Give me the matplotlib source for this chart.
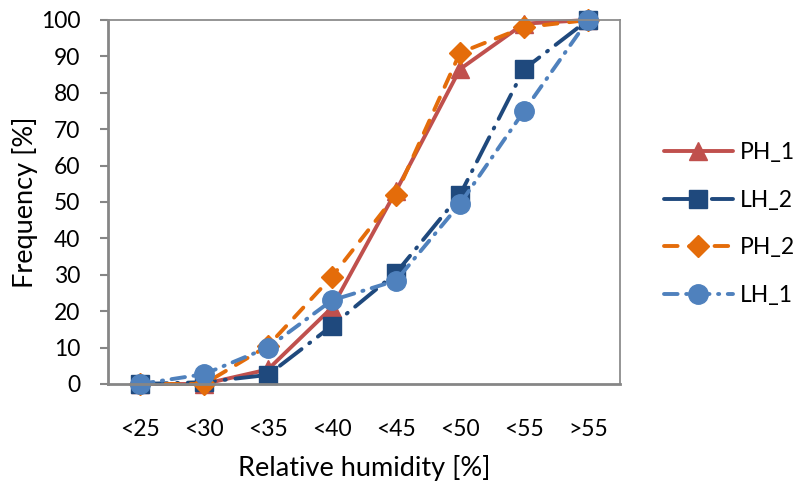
import matplotlib
matplotlib.use("Agg")
import matplotlib.pyplot as plt

categories = ["<25", "<30", "<35", "<40", "<45", "<50", "<55", ">55"]
ph_1 = [0, 0, 4, 21, 53, 86.5, 99, 100]
lh_2 = [0, 0.5, 2.5, 16, 30.5, 52, 86.5, 100]
ph_2 = [0, 0, 10.5, 29.5, 52, 91, 98, 100]
lh_1 = [0, 2.7, 10, 23, 28.4, 49.5, 75, 100]

plt.rcParams['font.family'] = ['Lato', 'DejaVu Sans']

fig = plt.figure(figsize=(8, 4.88), dpi=100)
ax = fig.add_axes([108/800, 1-384/488, 512/800, 364/488])

x = list(range(len(categories)))
lw = 2.8
ax.plot(x, ph_1, color='#C0504D', lw=lw, marker='^', ms=13, label='PH_1', solid_capstyle='round')
ax.plot(x, lh_2, color='#1F497D', lw=lw, marker='s', ms=13, label='LH_2',
        dashes=(7, 2.5, 0.3, 2.5), dash_capstyle='round')
ax.plot(x, ph_2, color='#E46C0A', lw=lw, marker='D', ms=11, label='PH_2',
        dashes=(3.5, 3), dash_capstyle='round')
ax.plot(x, lh_1, color='#4F81BD', lw=lw, marker='o', ms=14, label='LH_1',
        dashes=(3.5, 2.2, 0.3, 2.2), dash_capstyle='round')

ax.set_xlim(-0.5, len(categories) - 0.5)
ax.set_ylim(0, 100)
ax.set_yticks(range(0, 101, 10))
ax.set_xticks(x)
ax.set_xticklabels(categories)
for s in ax.spines.values():
    s.set_color('#8C8C8C')
    s.set_linewidth(1.3)
ax.spines['left'].set_color('#868686')
ax.spines['left'].set_linewidth(2)
ax.spines['bottom'].set_color('#868686')
ax.spines['bottom'].set_linewidth(2)
ax.tick_params(axis='y', direction='out', length=6, width=1.5, color='#868686',
               labelsize=16.5, pad=14)
ax.tick_params(axis='x', length=0, labelsize=16.5, pad=25)
for lab in ax.get_xticklabels() + ax.get_yticklabels():
    lab.set_color('black')
ax.set_xlabel('Relative humidity [%]', fontsize=19.5, labelpad=11)
ax.set_ylabel('Frequency [%]', fontsize=19.5, labelpad=2)
for l in ax.get_lines():
    l.set_clip_on(False)

leg = fig.legend(loc='center left', bbox_to_anchor=(664/800, 1-224/488), frameon=False,
                 fontsize=16.5, handlelength=3.0, labelspacing=1.17, handletextpad=0.3,
                 borderpad=0, borderaxespad=0)

fig.savefig('out.png', dpi=100)
